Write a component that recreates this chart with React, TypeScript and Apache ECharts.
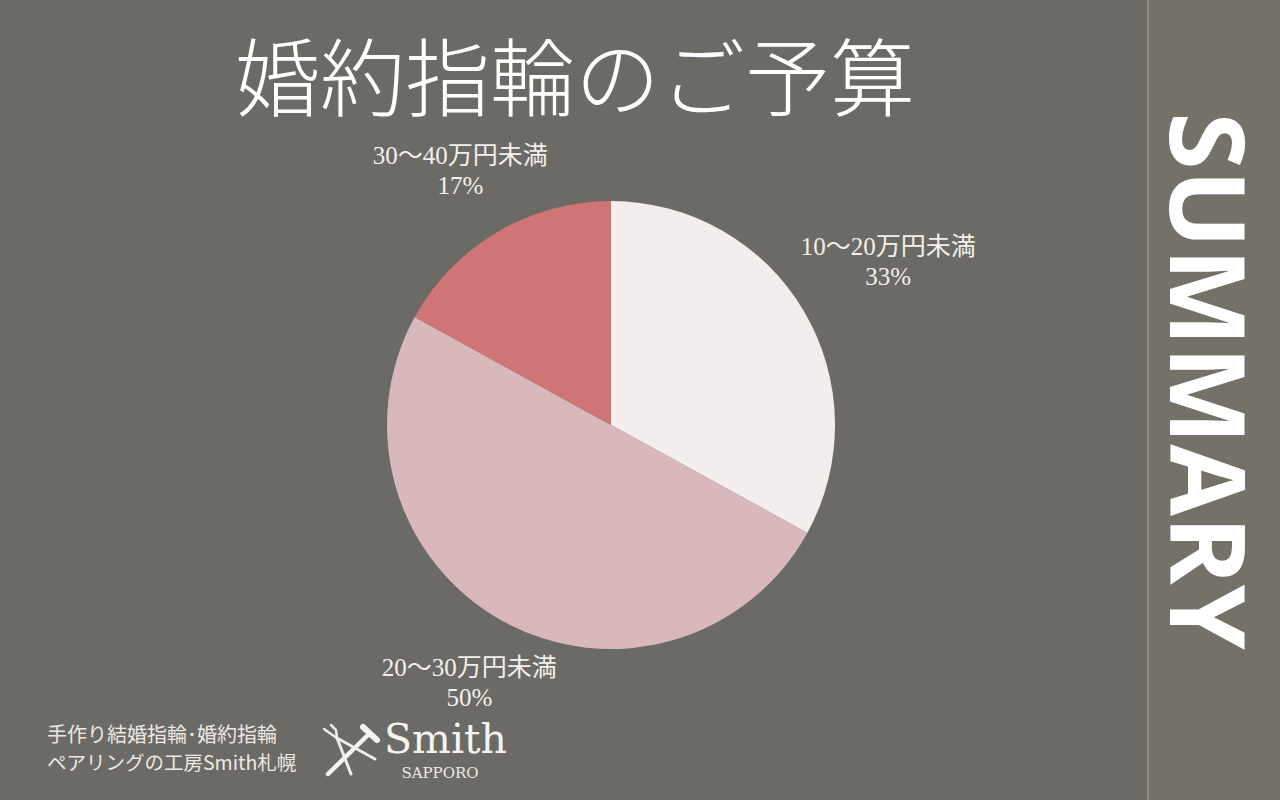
import React, { useEffect, useRef } from "react";
import * as echarts from "echarts";

const title = "婚約指輪のご予算";
const categories = ["10～20万円未満", "20～30万円未満", "30～40万円未満"];
const values = [33, 50, 17];
const sliceColors = ["#f3eded", "#d9b8bb", "#cf7575"];
const labelLineLengths = [98, 70, 72];
const sideText = "SUMMARY";
const footerLines = ["手作り結婚指輪･婚約指輪", "ペアリングの工房Smith札幌"];
const brandName = "Smith";
const brandPlace = "SAPPORO";

export default function App() {
  const ref = useRef<HTMLDivElement>(null);

  useEffect(() => {
    if (!ref.current) return;
    const chart = echarts.init(ref.current, undefined, { renderer: "svg" });
    const data = categories.map((name, i) => ({
      name,
      value: values[i],
      itemStyle: { color: sliceColors[i] },
      labelLine: { show: false, length: labelLineLengths[i], length2: 0 },
    }));
    const white = "#ffffff";
    const option: any = {
      animation: false,
      backgroundColor: "#6b6a65",
      graphic: [
        { type: "rect", shape: { x: 1148, y: 0, width: 132, height: 800 }, style: { fill: "#737168" }, z: 0 },
        { type: "line", shape: { x1: 1148, y1: 0, x2: 1148, y2: 800 }, style: { stroke: "#8e8c83", lineWidth: 2 }, z: 1 },
        {
          type: "text",
          x: 575,
          y: 72,
          style: {
            text: title,
            fill: white,
            fontSize: 85,
            fontFamily: '"Noto Sans CJK JP", sans-serif',
            fontWeight: 300,
            align: "center",
            verticalAlign: "middle",
          },
        },
        {
          type: "text",
          x: 1210,
          y: 381,
          rotation: -Math.PI / 2,
          style: {
            text: sideText,
            fill: white,
            fontSize: 104,
            fontFamily: '"Open Sans", "Noto Sans", sans-serif',
            fontWeight: "bold",
            align: "center",
            verticalAlign: "middle",
          },
          z: 2,
        },
        {
          type: "text",
          x: 47,
          y: 733,
          style: {
            text: footerLines[0],
            fill: "#ebe9e4",
            fontSize: 20,
            fontFamily: '"Noto Sans CJK JP", sans-serif',
            align: "left",
            verticalAlign: "middle",
          },
        },
        {
          type: "text",
          x: 47,
          y: 761,
          style: {
            text: footerLines[1],
            fill: "#ebe9e4",
            fontSize: 19.5,
            fontFamily: '"Noto Sans CJK JP", sans-serif',
            align: "left",
            verticalAlign: "middle",
          },
        },
        {
          type: "text",
          x: 384,
          y: 739,
          style: {
            text: brandName,
            fill: "#f4f3ef",
            fontSize: 41,
            fontFamily: '"DejaVu Serif", serif',
            align: "left",
            verticalAlign: "middle",
          },
        },
        {
          type: "text",
          x: 440,
          y: 773,
          style: {
            text: brandPlace,
            fill: "#ebe9e4",
            fontSize: 15,
            fontFamily: '"DejaVu Serif", serif',
            align: "center",
            verticalAlign: "middle",
          },
        },
        // logo icon: pliers and hammer
        {
          type: "group",
          children: [
            { type: "line", shape: { x1: 337, y1: 738, x2: 375, y2: 759 }, style: { stroke: "#eeece8", lineWidth: 3, lineCap: "round" } },
            { type: "line", shape: { x1: 337, y1: 738, x2: 351, y2: 774 }, style: { stroke: "#eeece8", lineWidth: 3, lineCap: "round" } },
            { type: "polyline", shape: { points: [[324, 729], [331, 734], [337, 738]] }, style: { stroke: "#eeece8", lineWidth: 2.5, fill: "none", lineCap: "round" } },
            { type: "polyline", shape: { points: [[331, 725], [336, 730], [337, 738]] }, style: { stroke: "#eeece8", lineWidth: 2.5, fill: "none", lineCap: "round" } },
            { type: "line", shape: { x1: 328, y1: 774, x2: 369, y2: 734 }, style: { stroke: "#f4f3ef", lineWidth: 4.5, lineCap: "round" } },
            { type: "line", shape: { x1: 363, y1: 727, x2: 377, y2: 740 }, style: { stroke: "#f4f3ef", lineWidth: 6, lineCap: "round" } },
          ],
        },
      ],
      series: [
        {
          type: "pie",
          center: [611, 425],
          radius: 224,
          startAngle: 90,
          clockwise: true,
          avoidLabelOverlap: false,
          percentPrecision: 0,
          data,
          itemStyle: { borderWidth: 0 },
          emphasis: { disabled: true },
          label: {
            show: true,
            position: "outside",
            distanceToLabelLine: 0,
            formatter: "{b}\n{d}%",
            color: "#f3f0ea",
            fontSize: 25,
            lineHeight: 30,
            fontFamily: '"Liberation Serif", "Noto Sans CJK JP", serif',
          },
          labelLine: { show: false, length: 70, length2: 0 },
          labelLayout: () => ({ align: "center", verticalAlign: "middle" }),
        },
      ],
    };
    chart.setOption(option);
    return () => chart.dispose();
  }, []);

  return (
    <div
      ref={ref}
      style={{ position: "fixed", left: 0, top: 0, width: 1280, height: 800 }}
    />
  );
}
